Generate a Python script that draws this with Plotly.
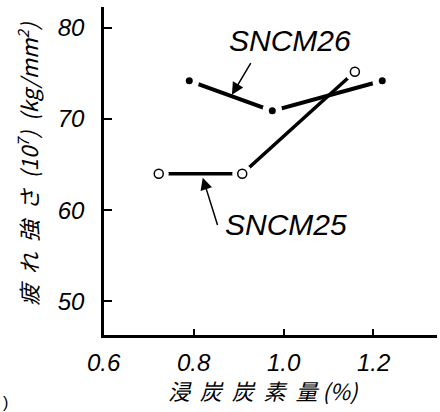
import plotly.graph_objects as go

# data
sncm26_x = [0.79, 0.975, 1.22]
sncm26_y = [74.2, 70.9, 74.2]
sncm25_x = [0.722, 0.908, 1.159]
sncm25_y = [64.0, 64.0, 75.2]
x_ticks = [0.6, 0.8, 1.0, 1.2]
x_tick_text = ["0.6", "0.8", "1.0", "1.2"]
y_ticks = [50, 60, 70, 80]
y_tick_text = ["50", "60", "70", "80"]

LAT = "Liberation Sans, DejaVu Sans, sans-serif"
JP = "Noto Sans CJK JP, sans-serif"

fig = go.Figure()
# lines
fig.add_trace(go.Scatter(x=sncm26_x, y=sncm26_y, mode="lines",
                         line=dict(color="black", width=4), showlegend=False, hoverinfo="skip"))
fig.add_trace(go.Scatter(x=sncm25_x, y=sncm25_y, mode="lines",
                         line=dict(color="black", width=3.5), showlegend=False, hoverinfo="skip"))
# white gaps around markers
fig.add_trace(go.Scatter(x=sncm26_x + sncm25_x, y=sncm26_y + sncm25_y, mode="markers",
                         marker=dict(color="white", size=20, line=dict(width=0)),
                         showlegend=False, hoverinfo="skip"))
# markers
fig.add_trace(go.Scatter(x=sncm26_x, y=sncm26_y, mode="markers",
                         marker=dict(color="black", size=7, line=dict(width=0)),
                         showlegend=False))
fig.add_trace(go.Scatter(x=sncm25_x, y=sncm25_y, mode="markers",
                         marker=dict(color="white", size=9, line=dict(color="black", width=1.5)),
                         showlegend=False))


def px(xp):
    return (xp - 104) / 333


def py(yp):
    return (335 - yp) / 328


annotations = [
    dict(x=px(290), y=py(41), xref="paper", yref="paper", text="SNCM26", showarrow=False,
         xanchor="center", yanchor="middle",
         font=dict(family=LAT, size=30, color="black", style="italic")),
    dict(x=px(286), y=py(225), xref="paper", yref="paper", text="SNCM25", showarrow=False,
         xanchor="center", yanchor="middle",
         font=dict(family=LAT, size=30, color="black", style="italic")),
    dict(x=0.885, y=72.67, ax=0.929, ay=76.3, xref="x", yref="y", axref="x", ayref="y",
         text="", showarrow=True, arrowhead=2, arrowsize=1.6, arrowwidth=1.5, arrowcolor="black"),
    dict(x=0.820, y=63.57, ax=0.854, ay=58.2, xref="x", yref="y", axref="x", ayref="y",
         text="", showarrow=True, arrowhead=2, arrowsize=1.6, arrowwidth=1.5, arrowcolor="black"),
    dict(x=px(263), y=py(390), xref="paper", yref="paper",
         text="浸  炭  炭  素  量 (%)", showarrow=False, xanchor="center", yanchor="middle",
         font=dict(family=JP, size=22, color="black", style="italic")),
    dict(x=px(27), y=py(164), xref="paper", yref="paper",
         text="疲  れ  強  さ  (10<sup>7</sup>)  (kg/mm<sup>2</sup>)", showarrow=False, textangle=-90,
         xanchor="center", yanchor="middle",
         font=dict(family=JP, size=22, color="black", style="italic")),
    dict(x=px(5), y=py(402), xref="paper", yref="paper", xanchor="center", yanchor="middle",
         text=")", showarrow=False, font=dict(family=LAT, size=16, color="black")),
]
# x tick labels placed just below the axis
for v, t in zip(x_ticks, x_tick_text):
    annotations.append(dict(x=v, y=py(362), xref="x", yref="paper", text=t, showarrow=False,
                            xanchor="center", yanchor="middle",
                            font=dict(family=LAT, size=24, color="black", style="italic")))

fig.update_layout(
    width=440, height=412,
    margin=dict(l=104, r=3, t=7, b=77),
    paper_bgcolor="white", plot_bgcolor="white",
    annotations=annotations,
    xaxis=dict(range=[0.6, 1.342], tickvals=x_ticks, showticklabels=False,
               showgrid=False, zeroline=False, showline=True, linecolor="black", linewidth=2.5,
               ticks="inside", ticklen=6, tickwidth=2, tickcolor="black"),
    yaxis=dict(range=[46.3, 82.3], tickvals=y_ticks, ticktext=y_tick_text,
               showgrid=False, zeroline=False, showline=True, linecolor="black", linewidth=2.5,
               ticks="inside", ticklen=8, tickwidth=2, tickcolor="black", ticklabelstandoff=12,
               tickfont=dict(family=LAT, size=24, color="black", style="italic")),
)

fig.write_html("out.html", config={"displayModeBar": False},
               post_script="document.body.style.margin='0';")
